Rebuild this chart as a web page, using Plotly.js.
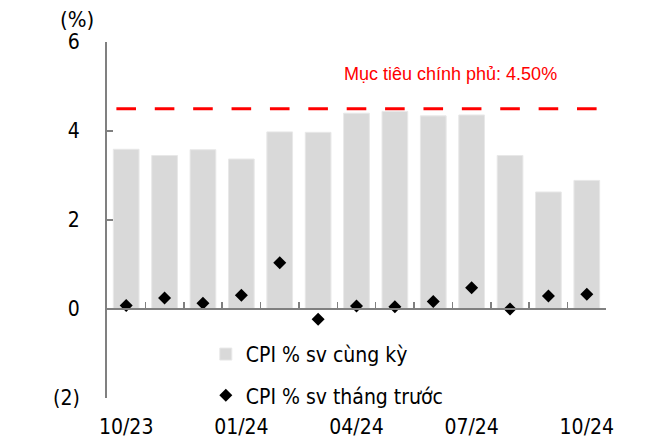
<!DOCTYPE html>
<html>
<head>
<meta charset="utf-8">
<script src="https://cdn.plot.ly/plotly-3.0.1.min.js"></script>
<style>html,body{margin:0;padding:0;background:#fff;}#chart{width:661px;height:444px;}</style>
</head>
<body>
<div id="chart"></div>
<script>
var months = ['10/23','11/23','12/23','01/24','02/24','03/24','04/24','05/24','06/24','07/24','08/24','09/24','10/24'];
var cpiYoY = [3.59, 3.45, 3.58, 3.37, 3.98, 3.97, 4.40, 4.44, 4.34, 4.36, 3.45, 2.63, 2.89];
var cpiMoM = [0.08, 0.25, 0.13, 0.31, 1.04, -0.23, 0.07, 0.05, 0.17, 0.48, 0.00, 0.29, 0.33];
var target = [4.5, 4.5, 4.5, 4.5, 4.5, 4.5, 4.5, 4.5, 4.5, 4.5, 4.5, 4.5, 4.5];
var xTickLabels = ['10/23','01/24','04/24','07/24','10/24'];
var yTickVals = [-2, 0, 2, 4, 6];
var yTickText = ['(2)', '0', '2', '4', '6'];

var fam = 'DejaVu Sans Condensed, DejaVu Sans, sans-serif';
var tickFont = {family: fam, size: 21, color: '#000'};
var axisGrey = '#808080';

var traces = [
  {
    type: 'bar', x: months, y: cpiYoY, name: 'CPI % sv cùng kỳ',
    xaxis: 'x', yaxis: 'y',
    marker: {color: '#d9d9d9', line: {color: '#e8e8e8', width: 1}},
    legendgroup: 'a', hoverinfo: 'skip'
  },
  {
    type: 'scatter', mode: 'markers', x: months, y: cpiMoM, name: 'CPI % sv tháng trước',
    xaxis: 'x', yaxis: 'y',
    marker: {symbol: 'diamond', size: 10, color: '#000'},
    legendgroup: 'b', hoverinfo: 'skip'
  },
  {
    type: 'scatter', mode: 'markers', x: months, y: target, name: 'Mục tiêu',
    xaxis: 'x2', yaxis: 'y', showlegend: false,
    marker: {symbol: 'line-ew', size: 14, color: '#ff0000', line: {color: '#ff0000', width: 3}},
    hoverinfo: 'skip'
  }
];

var layout = {
  width: 661, height: 444,
  margin: {l: 107, r: 55, t: 42, b: 46},
  paper_bgcolor: '#fff', plot_bgcolor: '#fff',
  showlegend: true,
  bargap: 0.33,
  xaxis: {
    type: 'category', categoryorder: 'array', categoryarray: months,
    range: [-0.5, 12.5],
    anchor: 'free', position: 0.25,
    showline: true, linecolor: axisGrey, linewidth: 2,
    ticks: 'inside', tickson: 'boundaries', ticklen: 6, tickwidth: 1.5, tickcolor: axisGrey,
    showticklabels: false, showgrid: false, zeroline: false, fixedrange: true
  },
  xaxis2: {
    type: 'category', categoryorder: 'array', categoryarray: months,
    range: [-0.5, 12.5],
    overlaying: 'x', anchor: 'y', side: 'bottom',
    showline: false, ticks: '', showgrid: false, zeroline: false,
    tickmode: 'array', tickvals: xTickLabels, ticktext: xTickLabels,
    tickfont: tickFont, ticklabelstandoff: 14, fixedrange: true
  },
  yaxis: {
    range: [-2, 6],
    tickmode: 'array', tickvals: yTickVals, ticktext: yTickText,
    showline: true, linecolor: axisGrey, linewidth: 2,
    ticks: 'inside', ticklen: 6, tickwidth: 1.5, tickcolor: axisGrey,
    showgrid: false, zeroline: false,
    tickfont: tickFont, ticklabelstandoff: 21, fixedrange: true
  },
  legend: {
    x: 0.198, xanchor: 'left', y: 0.18, yanchor: 'top',
    bgcolor: 'rgba(0,0,0,0)',
    font: {family: fam, size: 21, color: '#000'},
    traceorder: 'grouped', tracegroupgap: 11
  },
  annotations: [
    {
      text: '(%)', xref: 'paper', yref: 'paper', x: -0.06, y: 1.064,
      xanchor: 'center', yanchor: 'middle', showarrow: false,
      font: {family: fam, size: 22, color: '#000'}
    },
    {
      text: 'Mục tiêu chính phủ: 4.50%', xref: 'paper', yref: 'y', x: 0.689, y: 5.27,
      xanchor: 'center', yanchor: 'middle', showarrow: false,
      font: {family: 'Liberation Sans, Arial, sans-serif', size: 18, color: '#ff0000'}
    }
  ]
};

Plotly.newPlot('chart', traces, layout, {displayModeBar: false, staticPlot: true});
</script>
</body>
</html>
